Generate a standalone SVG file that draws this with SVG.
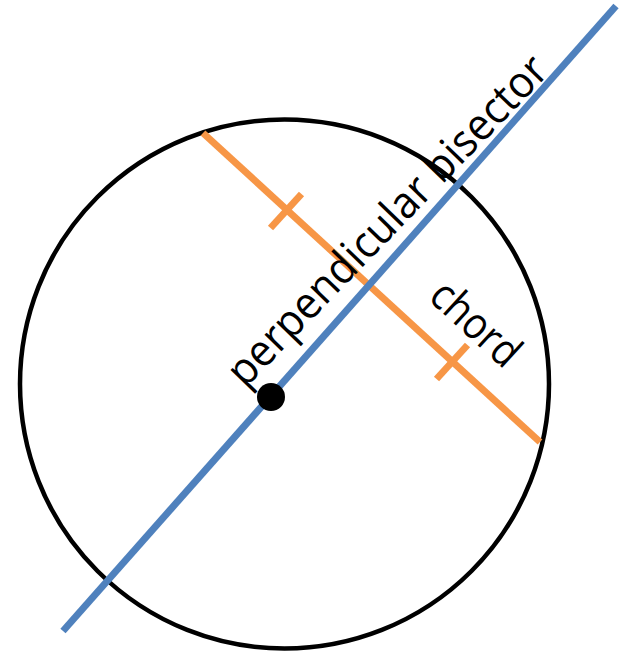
<svg xmlns="http://www.w3.org/2000/svg" width="619" height="654" viewBox="0 0 619 654">
<style>
.lbl{font-family:"Open Sans","Noto Sans","Liberation Sans",sans-serif;font-size:44px;fill:#000}
.orange{stroke:#F79646;stroke-width:7;fill:none}
.blue{stroke:#4F81BD;stroke-width:7;fill:none}
</style>
<rect width="619" height="654" fill="#fff"/>
<g id="circle"><circle cx="284.5" cy="384" r="264.5" fill="none" stroke="#000" stroke-width="4.5"/></g>
<g id="connectors">
<line class="orange" x1="203" y1="133" x2="540" y2="442"/>
<line class="orange" x1="270.5" y1="228" x2="301.5" y2="194"/>
<line class="orange" x1="436.5" y1="379" x2="467.5" y2="345"/>
<line class="blue" x1="63" y1="631" x2="616" y2="6"/>
</g>
<g id="center"><circle cx="271" cy="397" r="14" fill="#000"/></g>
<g id="label-bisector"><text class="lbl" transform="translate(245,389) rotate(-46)" textLength="440" lengthAdjust="spacingAndGlyphs">perpendicular bisector</text></g>
<g id="label-chord"><text class="lbl" transform="translate(427,299) rotate(42.5)" textLength="105" lengthAdjust="spacingAndGlyphs">chord</text></g>
</svg>
